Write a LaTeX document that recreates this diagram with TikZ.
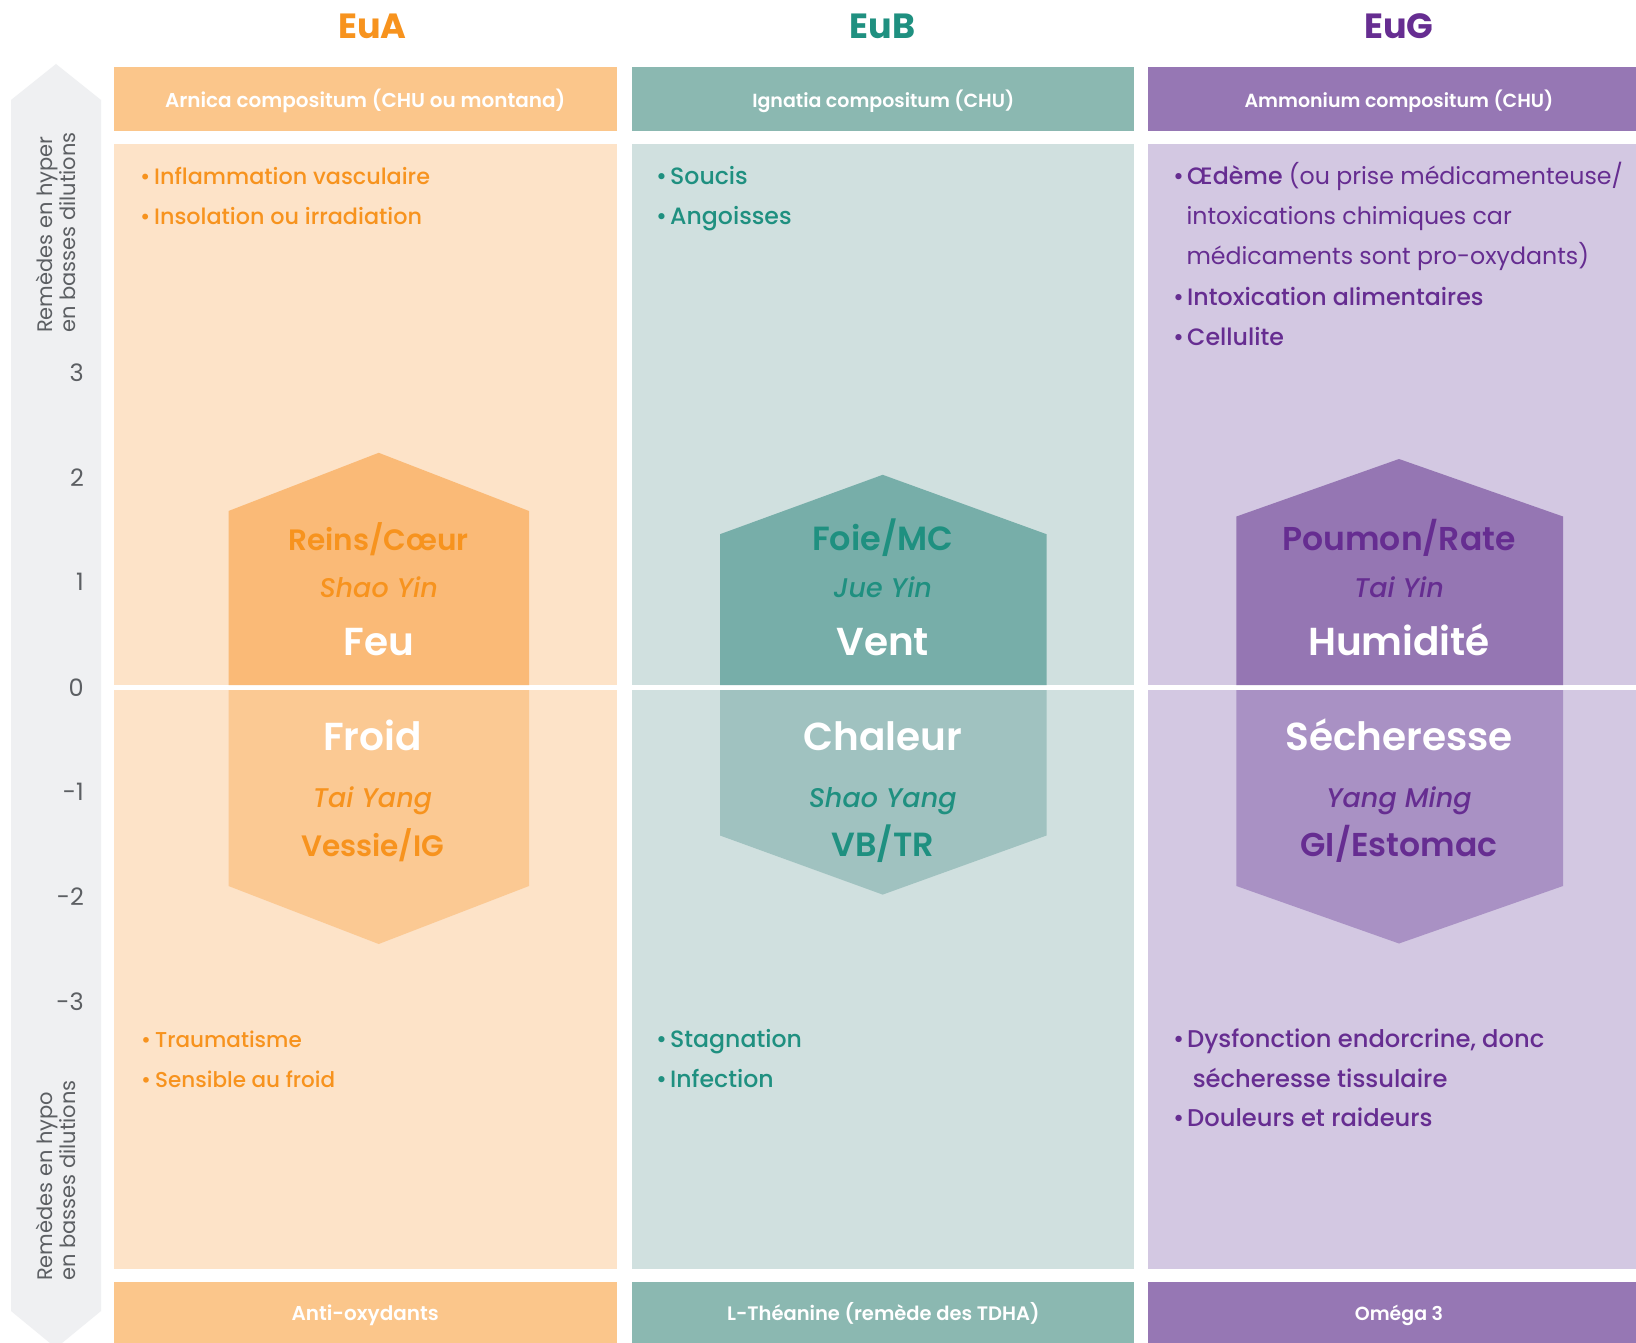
\documentclass[tikz,border=0pt]{standalone}
\usepackage{fontspec}
\setmainfont{Poppins}
\newfontfamily\medfont{Poppins Medium}
\newfontfamily\semifont{Poppins SemiBold}
\definecolor{oT}{HTML}{F7931E}
\definecolor{oH}{HTML}{FBC68B}
\definecolor{oP}{HTML}{FDE3C8}
\definecolor{oX1}{HTML}{FABA77}
\definecolor{oX2}{HTML}{FBC993}
\definecolor{tT}{HTML}{1F9080}
\definecolor{tH}{HTML}{8BB8B1}
\definecolor{tP}{HTML}{D0E0DF}
\definecolor{tX1}{HTML}{77AEA9}
\definecolor{tX2}{HTML}{A0C2C0}
\definecolor{pT}{HTML}{662D91}
\definecolor{pH}{HTML}{9677B4}
\definecolor{pP}{HTML}{D3C8E2}
\definecolor{pX1}{HTML}{9576B3}
\definecolor{pX2}{HTML}{A991C4}
\definecolor{gA}{HTML}{EFF0F2}
\definecolor{gT}{HTML}{5C5F63}
\tikzset{
  ttl/.style={font=\bfseries\fontsize{35}{40}\selectfont, anchor=base, inner sep=0pt},
  hdr/.style={font=\semifont\fontsize{#1}{22}\selectfont, text=white, anchor=base, inner sep=0pt},
  hdr/.default=19,
  bul/.style={font=\medfont\fontsize{#1}{28}\selectfont, anchor=base west, inner sep=0pt},
  bul/.default=23,
  reg/.style={font=\fontsize{#1}{28}\selectfont, anchor=base west, inner sep=0pt},
  reg/.default=23,
  organ/.style={font=\semifont\fontsize{#1}{36}\selectfont, anchor=base, inner sep=0pt},
  organ/.default=31,
  ital/.style={font=\medfont\itshape\fontsize{27}{32}\selectfont, anchor=base, inner sep=0pt},
  elem/.style={font=\semifont\fontsize{39}{44}\selectfont, text=white, anchor=base, inner sep=0pt},
  num/.style={font=\fontsize{24}{28}\selectfont, text=gT, anchor=east, inner sep=0pt},
  vtxt/.style={font=\fontsize{21}{23}\selectfont, text=gT, rotate=90, anchor=west, align=left, inner sep=0pt},
}
\newcommand{\bu}{\makebox[14pt][l]{•}}
\begin{document}
\begin{tikzpicture}[x=1pt,y=-1pt]
\useasboundingbox (0,0) rectangle (1636,1343);
\fill[white] (0,0) rectangle (1636,1343);

% side arrow
\fill[gA] (56,64) -- (101,100) -- (101,1311) -- (56,1348) -- (11,1311) -- (11,100) -- cycle;

% ---------- column A ----------
\fill[oH] (113.7,67) rectangle (616.6,131.5);
\fill[oP] (113.7,144) rectangle (616.6,685);
\fill[oP] (113.7,690) rectangle (616.6,1269);
\fill[oH] (113.7,1282.4) rectangle (616.6,1343);
\fill[oX1] (228.5,685) -- (228.5,511) -- (378.7,452.8) -- (529,511) -- (529,685) -- cycle;
\fill[oX2] (228.5,690) -- (228.5,886) -- (378.7,944) -- (529,886) -- (529,690) -- cycle;

% ---------- column B ----------
\fill[tH] (632.3,67) rectangle (1134.2,131.5);
\fill[tP] (632.3,144) rectangle (1134.2,685);
\fill[tP] (632.3,690) rectangle (1134.2,1269);
\fill[tH] (632.3,1282.4) rectangle (1134.2,1343);
\fill[tX1] (720,685) -- (720,534.2) -- (882.7,474.8) -- (1046.5,534.2) -- (1046.5,685) -- cycle;
\fill[tX2] (720,690) -- (720,835.5) -- (882.7,894.6) -- (1046.5,835.5) -- (1046.5,690) -- cycle;

% ---------- column G ----------
\fill[pH] (1147.7,67) rectangle (1636,131.5);
\fill[pP] (1147.7,144) rectangle (1636,685);
\fill[pP] (1147.7,690) rectangle (1636,1269);
\fill[pH] (1147.7,1282.4) rectangle (1636,1343);
\fill[pX1] (1236.4,685) -- (1236.4,516.5) -- (1399,459) -- (1563,516.5) -- (1563,685) -- cycle;
\fill[pX2] (1236.4,690) -- (1236.4,886) -- (1399,943.5) -- (1563,886) -- (1563,690) -- cycle;

% titles
\node[ttl, text=oT] (tA) at (372.5,39) {EuA};
\node[ttl, text=tT] (tB) at (882.7,39) {EuB};
\node[ttl, text=pT] (tG) at (1399,39) {EuG};

% header / footer texts
\node[hdr=20] (hA) at (365.2,108) {Arnica compositum (CHU ou montana)};
\node[hdr] (hB) at (883.3,108) {Ignatia compositum (CHU)};
\node[hdr] (hG) at (1399,108) {Ammonium compositum (CHU)};
\node[hdr=20] (fA) at (365.2,1320) {Anti-oxydants};
\node[hdr=19.5] (fB) at (883.3,1320) {L-Théanine (remède des TDHA)};
\node[hdr] (fG) at (1399,1320) {Oméga 3};

% axis
\node[vtxt] (vTop) at (56,333) {Remèdes en hyper\\en basses dilutions};
\node[vtxt] (vBot) at (56,1281) {Remèdes en hypo\\en basses dilutions};
\node[num] (n3) at (84,372.5) {3};
\node[num] (n2) at (84,477.4) {2};
\node[num] (n1) at (84,582.3) {1};
\node[num] (n0) at (84,687.2) {0};
\node[num] (nm1) at (84,792.1) {-1};
\node[num] (nm2) at (84,897) {-2};
\node[num] (nm3) at (84,1001.9) {-3};

% bullets A
\node[bul=22.3, text=oT] (a1) at (140,185) {\bu Inflammation vasculaire};
\node[bul=22.3, text=oT] (a2) at (140,225) {\bu Insolation ou irradiation};
\node[bul=21.5, text=oT] (a3) at (141,1047) {\bu Traumatisme};
\node[bul=21.5, text=oT] (a4) at (141,1087) {\bu Sensible au froid};

% bullets B
\node[bul=23.6, text=tT] (b1) at (656,185) {\bu Soucis};
\node[bul=23.6, text=tT] (b2) at (656,225) {\bu Angoisses};
\node[bul=23.6, text=tT] (b3) at (656,1047) {\bu Stagnation};
\node[bul=23.6, text=tT] (b4) at (656,1087) {\bu Infection};

% bullets G
\node[bul=23.7, text=pT] (g1) at (1173,185) {\bu Œdème {\normalfont\fontsize{23.7}{28}\selectfont (ou prise médicamenteuse/}};
\node[reg=23.7, text=pT] (g1b) at (1186.3,225) {intoxications chimiques car};
\node[reg=23.7, text=pT] (g1c) at (1186.3,265) {médicaments sont pro-oxydants)};
\node[bul=23.7, text=pT] (g2) at (1173,305) {\bu Intoxication alimentaires};
\node[bul=23.7, text=pT] (g3) at (1173,345) {\bu Cellulite};
\node[bul=24.2, text=pT] (g4) at (1173,1047) {\bu Dysfonction endorcrine, donc};
\node[bul=24.2, text=pT] (g4b) at (1192.6,1087) {sécheresse tissulaire};
\node[bul=24.2, text=pT] (g5) at (1173,1126) {\bu Douleurs et raideurs};

% hexagon texts A
\node[organ=29.5, text=oT] (xa1) at (378.7,550) {Reins/Cœur};
\node[ital, text=oT] (xa2) at (378.7,597) {Shao Yin};
\node[elem] (xa3) at (378.7,655) {Feu};
\node[elem] (xa4) at (372.5,750) {Froid};
\node[ital, text=oT] (xa5) at (372.5,807) {Tai Yang};
\node[organ=29.5, text=oT] (xa6) at (372.5,856) {Vessie/IG};

% hexagon texts B
\node[organ=33.5, text=tT] (xb1) at (882.7,550) {Foie/MC};
\node[ital, text=tT] (xb2) at (882.7,597) {Jue Yin};
\node[elem] (xb3) at (882.7,655) {Vent};
\node[elem] (xb4) at (882.7,750) {Chaleur};
\node[ital, text=tT] (xb5) at (882.7,807) {Shao Yang};
\node[organ=33.5, text=tT] (xb6) at (882.7,856) {VB/TR};

% hexagon texts G
\node[organ=33, text=pT] (xg1) at (1399,550) {Poumon/Rate};
\node[ital, text=pT] (xg2) at (1399,597) {Tai Yin};
\node[elem] (xg3) at (1399,655) {Humidité};
\node[elem] (xg4) at (1399,750) {Sécheresse};
\node[ital, text=pT] (xg5) at (1399,807) {Yang Ming};
\node[organ=33, text=pT] (xg6) at (1399,856) {GI/Estomac};
\end{tikzpicture}
\end{document}
